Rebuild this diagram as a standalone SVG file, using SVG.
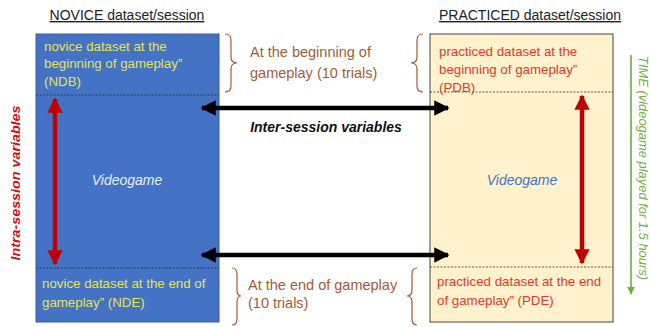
<svg xmlns="http://www.w3.org/2000/svg" width="650" height="327" viewBox="0 0 650 327">
<defs>
<style>
text{font-family:"Liberation Sans",Arial,sans-serif}
.hdr{font-size:14px;fill:#222;text-decoration:underline}
.yt{font-size:13.3px;fill:#E6E64A}
.rt{font-size:13.3px;fill:#E03A30}
.br{font-size:14.5px;fill:#A65A32}
.brace{fill:none;stroke:#A65A32;stroke-width:1.2}
.dash{stroke:#333;stroke-width:0.8;stroke-dasharray:2 1.5}
.blk{stroke:#000;stroke-width:4.5}
.red{stroke:#C00000;stroke-width:4.5}
</style>
<marker id="ab" viewBox="0 0 10 10" refX="9" refY="5" markerWidth="3.6" markerHeight="3.4" orient="auto-start-reverse" markerUnits="strokeWidth"><path d="M0,0L10,5L0,10z" fill="#000"/></marker>
<marker id="ar" viewBox="0 0 10 10" refX="9" refY="5" markerWidth="3.6" markerHeight="3.4" orient="auto-start-reverse" markerUnits="strokeWidth"><path d="M0,0L10,5L0,10z" fill="#C00000"/></marker>
<marker id="ag" viewBox="0 0 10 10" refX="9" refY="5" markerWidth="5" markerHeight="5" orient="auto" markerUnits="strokeWidth"><path d="M0,0L10,5L0,10z" fill="#70AD47"/></marker>
</defs>
<rect width="650" height="327" fill="#fff"/>
<g id="novice">
<text class="hdr" x="127" y="20" text-anchor="middle">NOVICE dataset/session</text>
<rect x="36" y="34" width="183" height="288" fill="#4472C4" stroke="#3A5F9E" stroke-width="1"/>
<line class="dash" x1="36" y1="95" x2="219" y2="95"/>
<line class="dash" x1="36" y1="268" x2="219" y2="268"/>
<text class="yt" x="44" y="51">novice dataset at the</text>
<text class="yt" x="44" y="68">beginning of gameplay”</text>
<text class="yt" x="44" y="86">(NDB)</text>
<text x="127" y="185" text-anchor="middle" font-size="14" font-style="italic" fill="#E8EEF8">Videogame</text>
<text class="yt" x="42" y="288">novice dataset at the end of</text>
<text class="yt" x="42" y="307">gameplay” (NDE)</text>
</g>
<g id="practiced">
<text class="hdr" x="530" y="20" text-anchor="middle">PRACTICED dataset/session</text>
<rect x="430" y="34" width="183" height="288" fill="#FFF2CC" stroke="#444" stroke-width="1"/>
<line class="dash" x1="430" y1="92" x2="613" y2="92"/>
<line class="dash" x1="430" y1="267" x2="613" y2="267"/>
<text class="rt" x="439" y="56">practiced dataset at the</text>
<text class="rt" x="439" y="74">beginning of gameplay”</text>
<text class="rt" x="439" y="92">(PDB)</text>
<text x="522" y="185" text-anchor="middle" font-size="14" font-style="italic" fill="#4472C4">Videogame</text>
<text class="rt" x="437" y="286">practiced dataset at the end</text>
<text class="rt" x="437" y="305">of gameplay” (PDE)</text>
</g>
<g id="begin-label">
<path class="brace" d="M225,34 Q231,34 231,40 L231,57 Q231,63 237,63 Q231,63 231,69 L231,86 Q231,92 225,92"/>
<path class="brace" d="M423,34 Q417,34 417,40 L417,57 Q417,63 411,63 Q417,63 417,69 L417,86 Q417,92 423,92"/>
<text class="br" x="250" y="57">At the beginning of</text>
<text class="br" x="250" y="78">gameplay (10 trials)</text>
</g>
<g id="end-label">
<path class="brace" d="M232,268 Q237,268 237,274 L237,290 Q237,296 241,296 Q237,296 237,302 L237,319 Q237,325 232,325"/>
<path class="brace" d="M417,268 Q412,268 412,274 L412,290 Q412,296 407,296 Q412,296 412,302 L412,319 Q412,325 417,325"/>
<text class="br" x="248" y="290">At the end of gameplay</text>
<text class="br" x="248" y="308">(10 trials)</text>
</g>
<g id="connectors">
<line class="blk" x1="202" y1="108" x2="448" y2="108" marker-start="url(#ab)" marker-end="url(#ab)"/>
<line class="blk" x1="202" y1="255" x2="448" y2="255" marker-start="url(#ab)" marker-end="url(#ab)"/>
<line class="red" x1="55" y1="99" x2="55" y2="264" marker-start="url(#ar)" marker-end="url(#ar)"/>
<line class="red" x1="582" y1="96" x2="582" y2="263" marker-start="url(#ar)" marker-end="url(#ar)"/>
<line x1="631" y1="55" x2="631" y2="294" stroke="#70AD47" stroke-width="1.6" marker-end="url(#ag)"/>
</g>
<g id="labels">
<text x="326" y="132" text-anchor="middle" font-size="14" font-weight="bold" font-style="italic" fill="#111">Inter-session variables</text>
<text transform="translate(20,183) rotate(-90)" text-anchor="middle" font-size="13" font-weight="bold" font-style="italic" fill="#D01010" textLength="155" lengthAdjust="spacingAndGlyphs">Intra-session variables</text>
<text transform="translate(639,56) rotate(90)" font-size="13" font-style="italic" fill="#70AD47" textLength="224" lengthAdjust="spacingAndGlyphs">TIME (videogame played for 1.5 hours)</text>
</g>
</svg>
